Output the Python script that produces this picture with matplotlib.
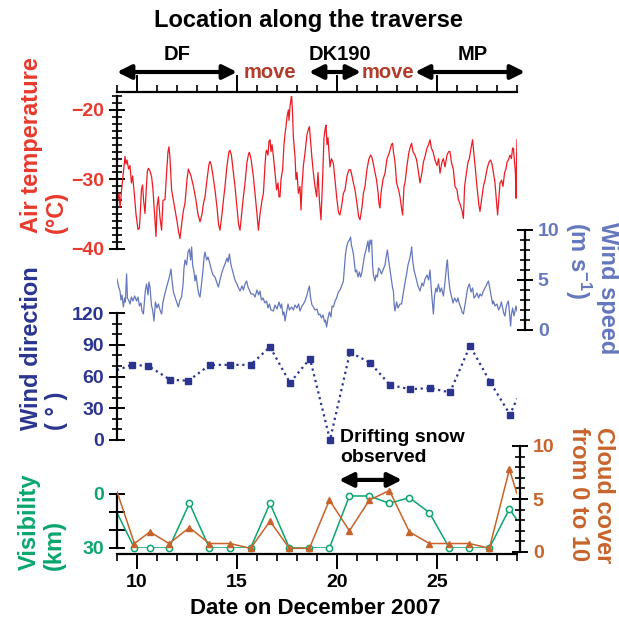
import matplotlib
matplotlib.use('Agg')
import matplotlib.pyplot as plt
from matplotlib.ticker import MultipleLocator, FixedLocator, FixedFormatter

plt.rcParams['font.family'] = ['Liberation Sans', 'DejaVu Sans']
plt.rcParams['font.weight'] = 'bold'
plt.rcParams['mathtext.fontset'] = 'custom'
plt.rcParams['mathtext.rm'] = 'Liberation Sans:bold'
plt.rcParams['mathtext.it'] = 'Liberation Sans:bold'
plt.rcParams['mathtext.bf'] = 'Liberation Sans:bold'

# ---- data ----
temp_day = [9.0, 9.1, 9.15, 9.23, 9.32, 9.40, 9.45, 9.5, 9.58, 9.65, 9.72, 9.78, 9.85, 9.95, 10.05,
            10.12, 10.18, 10.22, 10.28, 10.33, 10.40, 10.47, 10.52, 10.57, 10.65, 10.73, 10.8, 10.88,
            10.95, 11.0, 11.07, 11.15, 11.23, 11.3, 11.4, 11.48, 11.55, 11.60, 11.65, 11.73, 11.82,
            11.90, 12.0, 12.08, 12.15, 12.25, 12.32, 12.40, 12.5, 12.57, 12.62, 12.7, 12.82, 12.95,
            13.05, 13.15, 13.25, 13.32, 13.40, 13.5, 13.6, 13.65, 13.72, 13.8, 13.90, 14.0, 14.08,
            14.15, 14.25, 14.32, 14.40, 14.5, 14.6, 14.65, 14.72, 14.8, 14.90, 15.0, 15.08, 15.15,
            15.25, 15.32, 15.40, 15.5, 15.58, 15.62, 15.7, 15.82, 15.9, 16.0, 16.07, 16.15, 16.25,
            16.32, 16.4, 16.45, 16.48, 16.55, 16.6, 16.65, 16.7, 16.75, 16.82, 16.9, 16.98, 17.05,
            17.1, 17.15, 17.2, 17.28, 17.35, 17.4, 17.45, 17.5, 17.57, 17.6, 17.65, 17.7, 17.73,
            17.77, 17.82, 17.9, 17.95, 18.0, 18.07, 18.15, 18.2, 18.25, 18.32, 18.40, 18.5, 18.57,
            18.62, 18.68, 18.75, 18.82, 18.9, 18.98, 19.05, 19.12, 19.2, 19.28, 19.35, 19.42, 19.45,
            19.5, 19.55, 19.65, 19.72, 19.82, 19.9, 20.0, 20.08, 20.15, 20.25, 20.32, 20.40, 20.5,
            20.6, 20.68, 20.75, 20.82, 20.9, 21.0, 21.08, 21.15, 21.25, 21.32, 21.40, 21.5, 21.6,
            21.68, 21.73, 21.8, 21.9, 21.98, 22.05, 22.1, 22.15, 22.2, 22.3, 22.40, 22.5, 22.6,
            22.65, 22.72, 22.78, 22.82, 22.9, 22.98, 23.08, 23.15, 23.22, 23.28, 23.35, 23.40, 23.5,
            23.6, 23.7, 23.73, 23.8, 23.9, 23.98, 24.05, 24.15, 24.25, 24.32, 24.40, 24.5, 24.58,
            24.65, 24.72, 24.8, 24.90, 25.0, 25.08, 25.15, 25.25, 25.32, 25.40, 25.5, 25.58, 25.65,
            25.72, 25.82, 25.9, 26.0, 26.07, 26.15, 26.25, 26.32, 26.38, 26.45, 26.55, 26.62, 26.7,
            26.78, 26.85, 26.92, 26.98, 27.05, 27.1, 27.15, 27.25, 27.32, 27.40, 27.5, 27.6, 27.68,
            27.75, 27.82, 27.9, 27.97, 28.03, 28.1, 28.15, 28.23, 28.3, 28.38, 28.45, 28.5, 28.57,
            28.65, 28.72, 28.78, 28.82, 28.88, 28.92, 28.95, 28.98, 29.0]
temp_val = [-33.4, -32.0, -34.0, -31.5, -29.0, -26.7, -27.8, -27.2, -28.5, -28.0, -30.5, -29.5, -31.5,
            -35.0, -37.2, -37.0, -34.0, -31.5, -30.8, -33.0, -34.9, -31.0, -28.8, -28.4, -28.8, -29.6,
            -31.5, -35.0, -38.2, -34.0, -32.5, -35.5, -37.3, -33.0, -32.9, -29.0, -26.0, -25.3, -27.0,
            -31.5, -33.0, -34.4, -36.0, -37.5, -38.5, -36.0, -34.5, -33.4, -30.0, -28.5, -28.9, -29.5,
            -31.0, -33.0, -35.0, -36.1, -35.0, -33.5, -32.5, -30.0, -27.8, -27.4, -28.0, -29.5, -31.5,
            -34.0, -36.5, -37.3, -35.0, -33.0, -31.0, -28.0, -26.0, -25.8, -26.5, -28.5, -31.0, -34.0,
            -36.5, -37.3, -34.5, -32.5, -30.5, -27.5, -26.3, -26.1, -27.0, -29.6, -32.0, -35.0, -37.3,
            -35.0, -33.0, -32.0, -28.0, -26.0, -25.8, -26.5, -24.5, -24.3, -26.0, -25.0, -26.7, -29.0,
            -31.5, -30.5, -32.5, -32.5, -30.0, -28.6, -25.0, -23.5, -22.4, -21.0, -20.0, -21.5, -19.5,
            -18.5, -17.8, -20.0, -24.0, -26.7, -30.0, -29.0, -32.0, -31.0, -34.4, -31.0, -28.0, -26.2,
            -23.5, -22.8, -22.4, -24.5, -27.0, -29.1, -31.0, -32.5, -29.0, -33.0, -35.8, -30.0, -24.0,
            -22.5, -22.2, -25.0, -24.0, -28.2, -27.0, -27.7, -30.0, -33.0, -34.8, -35.1, -33.5, -32.0,
            -31.5, -29.5, -28.6, -28.6, -29.5, -30.5, -31.5, -33.5, -35.3, -35.8, -34.0, -32.0, -31.0,
            -28.5, -27.0, -26.5, -26.7, -27.5, -29.0, -30.1, -31.8, -33.5, -34.1, -32.0, -30.0, -29.1,
            -27.0, -26.3, -25.8, -25.0, -24.8, -26.0, -27.5, -30.5, -31.5, -32.5, -34.0, -35.1, -31.0,
            -30.5, -28.0, -26.0, -25.0, -24.8, -26.0, -26.5, -27.2, -28.5, -30.5, -29.0, -27.5, -26.7,
            -25.5, -25.0, -24.3, -25.5, -26.0, -27.2, -28.0, -27.0, -29.1, -27.5, -27.0, -28.2, -26.5,
            -26.0, -26.0, -27.5, -28.6, -31.0, -31.5, -32.9, -33.5, -34.5, -35.6, -31.0, -29.5, -27.5,
            -27.0, -25.5, -24.3, -26.5, -28.5, -30.5, -32.5, -33.8, -34.6, -32.5, -31.0, -30.1, -28.5,
            -27.5, -27.2, -27.8, -29.0, -30.5, -33.0, -35.1, -32.5, -30.5, -30.1, -31.0, -29.0, -28.5,
            -27.5, -27.2, -26.5, -27.0, -25.5, -25.5, -27.5, -29.0, -32.7, -27.0, -24.3]

ws_day = [9.0, 9.05, 9.1, 9.15, 9.2, 9.25, 9.32, 9.38, 9.42, 9.48, 9.52, 9.58, 9.65, 9.72, 9.8, 9.88,
          9.98, 10.05, 10.12, 10.2, 10.25, 10.32, 10.38, 10.42, 10.48, 10.55, 10.6, 10.65, 10.72,
          10.78, 10.85, 10.92, 11.0, 11.07, 11.15, 11.23, 11.3, 11.38, 11.48, 11.55, 11.62, 11.70,
          11.75, 11.82, 11.9, 11.98, 12.07, 12.15, 12.23, 12.3, 12.35, 12.40, 12.48, 12.55, 12.62,
          12.68, 12.73, 12.78, 12.85, 12.9, 12.95, 13.05, 13.1, 13.15, 13.22, 13.3, 13.35, 13.40,
          13.48, 13.55, 13.65, 13.72, 13.8, 13.9, 13.98, 14.07, 14.15, 14.25, 14.32, 14.40, 14.5,
          14.55, 14.62, 14.7, 14.78, 14.82, 14.9, 15.0, 15.08, 15.15, 15.25, 15.32, 15.4, 15.48,
          15.55, 15.62, 15.7, 15.82, 15.9, 16.0, 16.08, 16.15, 16.22, 16.3, 16.4, 16.48, 16.55,
          16.62, 16.7, 16.82, 16.9, 17.0, 17.1, 17.18, 17.23, 17.3, 17.35, 17.40, 17.48, 17.55,
          17.62, 17.73, 17.82, 17.9, 18.0, 18.08, 18.15, 18.25, 18.32, 18.40, 18.5, 18.57, 18.62,
          18.68, 18.75, 18.82, 18.9, 19.0, 19.08, 19.15, 19.22, 19.3, 19.38, 19.42, 19.48, 19.55,
          19.62, 19.7, 19.75, 19.82, 19.9, 19.98, 20.07, 20.15, 20.25, 20.32, 20.38, 20.42, 20.48,
          20.55, 20.62, 20.68, 20.72, 20.78, 20.82, 20.88, 20.92, 20.98, 21.05, 21.12, 21.18, 21.23,
          21.3, 21.38, 21.45, 21.48, 21.55, 21.6, 21.65, 21.7, 21.73, 21.78, 21.82, 21.9, 21.95,
          22.02, 22.08, 22.15, 22.22, 22.32, 22.4, 22.45, 22.52, 22.58, 22.65, 22.72, 22.78, 22.82,
          22.86, 22.90, 22.98, 23.05, 23.15, 23.23, 23.3, 23.38, 23.48, 23.55, 23.62, 23.7, 23.73,
          23.78, 23.85, 23.9, 23.98, 24.05, 24.15, 24.25, 24.32, 24.40, 24.5, 24.58, 24.65, 24.7,
          24.75, 24.82, 24.88, 24.95, 25.0, 25.07, 25.15, 25.22, 25.32, 25.4, 25.48, 25.52, 25.58,
          25.65, 25.73, 25.8, 25.88, 25.98, 26.05, 26.12, 26.2, 26.25, 26.32, 26.4, 26.5, 26.55,
          26.62, 26.7, 26.78, 26.85, 26.9, 27.0, 27.08, 27.15, 27.23, 27.32, 27.4, 27.5, 27.57,
          27.62, 27.7, 27.78, 27.82, 27.9, 28.0, 28.08, 28.15, 28.22, 28.3, 28.35, 28.40, 28.45,
          28.5, 28.57, 28.62, 28.68, 28.72, 28.78, 28.85, 28.9, 28.95, 29.0]
ws_val = [5.1, 4.6, 4.2, 3.9, 3.0, 3.5, 2.3, 3.2, 2.8, 5.6, 3.2, 3.0, 2.6, 3.3, 2.9, 3.4,
          2.9, 3.3, 2.4, 2.7, 1.9, 1.6, 3.0, 4.0, 4.6, 3.5, 4.8, 4.3, 2.5,
          2.0, 0.9, 2.8, 2.2, 2.6, 2.0, 1.6, 2.8, 3.5, 4.3, 4.8, 5.3, 6.1,
          5.0, 3.8, 3.3, 2.8, 2.3, 3.0, 3.3, 4.5, 6.2, 7.0, 6.5, 7.8, 8.1,
          7.0, 8.3, 6.5, 5.8, 4.9, 5.5, 4.0, 3.5, 3.3, 4.5, 6.0, 7.2, 7.8,
          7.0, 7.3, 6.6, 6.0, 5.5, 5.3, 4.8, 4.3, 5.0, 5.8, 6.2, 6.6, 7.2,
          6.8, 7.6, 6.5, 5.9, 5.6, 5.0, 4.6, 4.2, 3.9, 4.4, 4.0, 4.6, 4.9,
          4.3, 4.0, 3.6, 3.6, 3.3, 4.0, 3.5, 3.9, 3.0, 3.2, 2.7, 2.9, 2.2,
          2.6, 2.0, 1.9, 2.5, 2.1, 2.8, 2.2, 2.6, 1.5, 1.8, 0.9, 1.8, 2.6,
          2.0, 2.3, 2.0, 2.5, 2.2, 2.6, 1.9, 2.4, 2.6, 2.9, 3.5, 4.1, 4.4,
          3.2, 2.5, 2.3, 2.0, 2.1, 1.5, 1.6, 1.2, 1.5, 0.8, 1.0, 0.3, 1.2,
          1.8, 1.3, 2.4, 2.3, 2.9, 3.2, 3.8, 4.0, 4.5, 4.9, 6.5, 7.5, 8.3,
          8.8, 9.0, 9.3, 8.5, 8.0, 7.6, 6.5, 5.8, 6.0, 5.3, 5.8, 5.3, 5.6,
          6.5, 7.5, 8.0, 8.3, 8.9, 7.8, 9.0, 8.6, 9.0, 6.5, 5.5, 4.9, 5.5,
          5.3, 6.2, 6.0, 5.6, 6.1, 6.5, 7.2, 8.0, 7.0, 6.0, 5.0, 4.2, 3.9,
          2.5, 1.9, 2.8, 2.2, 2.6, 2.6, 3.5, 4.5, 5.6, 6.5, 7.0, 7.8, 8.3,
          7.0, 6.0, 5.6, 5.0, 4.4, 3.9, 4.7, 4.4, 5.1, 5.5, 5.0, 6.0, 4.5,
          3.2, 1.6, 3.5, 4.2, 3.8, 4.6, 3.8, 4.2, 3.4, 4.8, 6.5, 7.0, 5.2,
          4.0, 3.3, 2.7, 3.2, 2.8, 3.2, 2.6, 2.2, 1.8, 1.6, 2.5, 3.8, 4.3,
          4.6, 3.8, 4.2, 3.2, 3.3, 3.7, 3.2, 3.6, 3.4, 3.9, 4.2, 4.6, 4.9,
          4.4, 3.5, 2.6, 2.9, 2.4, 2.6, 2.0, 2.3, 2.8, 2.0, 1.6, 1.4, 2.2,
          2.6, 2.9, 1.8, 0.4, 1.5, 2.2, 1.4, 1.9, 2.4, 1.9]

wd_day = [9.0, 9.73, 10.57, 11.65, 12.57, 13.65, 14.65, 15.68, 16.65, 17.65, 18.65, 19.65,
          20.65, 21.65, 22.65, 23.65, 24.65, 25.65, 26.65, 27.65, 28.65, 29.0]
wd_val = [66, 71, 70, 57, 56, 71, 71, 71, 88, 54, 77, 0,
          83, 73, 52, 48, 49, 45, 89, 55, 24, 39]

obs_day = [9.0, 9.87, 10.65, 11.6, 12.62, 13.62, 14.65, 15.68, 16.65, 17.62, 18.62, 19.62,
           20.62, 21.62, 22.62, 23.62, 24.62, 25.62, 26.62, 27.62, 28.62, 29.0]
vis_val = [10.4, 30, 30, 30, 5.2, 30, 30, 30, 5.2, 30, 30, 30,
           1.1, 1.1, 5.2, 2.0, 10.4, 30, 30, 30, 8.3, 14.4]
cloud_val = [5.7, 0.8, 1.9, 0.8, 2.3, 0.8, 0.8, 0.35, 2.9, 0.35, 0.35, 4.9,
             2.0, 4.9, 5.8, 1.9, 0.8, 0.8, 0.8, 0.35, 7.8, 5.5]

# location segments: (start, end, label)
stays = [(9.0, 15.0, 'DF'), (18.6, 21.2, 'DK190'), (23.9, 29.4, 'MP')]
stay_label_x = [12.0, 20.15, 26.8]
move_x = [16.65, 22.55]
drift_snow = (20.1, 23.25)

c_temp, c_temp_txt = '#ec1c24', '#e8392c'
c_ws = '#6577bd'
c_wd = '#2b3590'
c_vis = '#0aa66e'
c_cc = '#c8632b'
c_move = '#b33b2a'

W, H = 619, 626
fig = plt.figure(figsize=(W / 100, H / 100), dpi=100)


def px_axes(top, bottom):
    ax = fig.add_axes([117 / W, 1 - bottom / H, 400 / W, (bottom - top) / H], facecolor='none')
    for s in ax.spines.values():
        s.set_visible(False)
    ax.set_xlim(9, 29)
    ax.tick_params(axis='x', which='both', bottom=False, labelbottom=False)
    return ax


def style_y(ax, side, color, major, minor=None, out=0):
    sp = ax.spines[side]
    sp.set_visible(True)
    sp.set_linewidth(1.6)
    if out:
        sp.set_position(('outward', out * 0.72))
    if side == 'right':
        ax.yaxis.tick_right()
    ax.yaxis.set_major_locator(FixedLocator(major))
    if minor:
        ax.yaxis.set_minor_locator(MultipleLocator(minor))
    ax.tick_params(axis='y', which='major', direction='inout', length=11.5, width=1.4,
                   labelsize=14, labelcolor=color)
    ax.tick_params(axis='y', which='minor', direction='inout', length=7, width=1.2)


arrow = dict(arrowstyle='<|-|>', color='black', lw=3, mutation_scale=21, shrinkA=0, shrinkB=0)

# location axis on top
ax_loc = px_axes(30, 92)
ax_loc.set_ylim(92, 30)
ax_loc.set_yticks([])
ax_loc.spines['bottom'].set_visible(True)
ax_loc.spines['bottom'].set_linewidth(1.6)
ax_loc.xaxis.set_major_locator(FixedLocator([10, 15, 20, 25]))
ax_loc.xaxis.set_minor_locator(MultipleLocator(1))
ax_loc.tick_params(axis='x', which='major', bottom=True, direction='in', length=12, width=1.4)
ax_loc.tick_params(axis='x', which='minor', bottom=True, direction='in', length=5, width=1.2)
for (a, b, lab), lx in zip(stays, stay_label_x):
    ax_loc.annotate('', xy=(a, 72), xytext=(b, 72), annotation_clip=False, arrowprops=arrow)
    ax_loc.text(lx, 55, lab, ha='center', va='center', fontsize=14.5, clip_on=False)
for mx in move_x:
    ax_loc.text(mx, 72, 'move', ha='center', va='center', fontsize=14.5, color=c_move, clip_on=False)

# air temperature
ax_t = px_axes(96, 249)
ax_t.set_ylim(-40, -18)
style_y(ax_t, 'left', c_temp_txt, [-40, -30, -20], 1)
ax_t.plot(temp_day, temp_val, color=c_temp, lw=0.9)

# wind speed
ax_ws = px_axes(230, 330)
ax_ws.set_ylim(0, 10)
style_y(ax_ws, 'right', c_ws, [0, 5, 10], 1, out=8)
ax_ws.plot(ws_day, ws_val, color=c_ws, lw=0.9)

# wind direction
ax_wd = px_axes(313, 440)
ax_wd.set_ylim(0, 120)
style_y(ax_wd, 'left', c_wd, [0, 30, 60, 90, 120], 10)
ax_wd.plot(wd_day, wd_val, color=c_wd, lw=1.6, ls=':')
ax_wd.plot(wd_day[1:-1], wd_val[1:-1], 's', color=c_wd, ms=5, clip_on=False)

# visibility (with the date axis)
ax_v = px_axes(494, 548)
ax_v.set_ylim(30, 0)
style_y(ax_v, 'left', c_vis, [0, 10, 20, 30])
ax_v.yaxis.set_major_formatter(FixedFormatter(['0', '', '', '30']))
ax_v.spines['bottom'].set_visible(True)
ax_v.spines['bottom'].set_linewidth(1.6)
ax_v.spines['bottom'].set_position(('outward', 6 * 0.72))
ax_v.xaxis.set_major_locator(FixedLocator([10, 15, 20, 25]))
ax_v.xaxis.set_minor_locator(MultipleLocator(1))
ax_v.tick_params(axis='x', which='major', bottom=True, labelbottom=True, direction='out',
                 length=11, width=1.4, labelsize=14)
ax_v.tick_params(axis='x', which='minor', bottom=True, direction='out', length=5, width=1.2)
ax_v.plot(obs_day, vis_val, color=c_vis, lw=1.1)
ax_v.plot(obs_day[1:-1], vis_val[1:-1], 'o', mfc='white', mec=c_vis, mew=1.1, ms=4.5, clip_on=False)

# cloud cover
ax_c = px_axes(446, 552)
ax_c.set_ylim(0, 10)
style_y(ax_c, 'right', c_cc, [0, 5, 10], 1, out=3)
ax_c.plot(obs_day, cloud_val, color=c_cc, lw=1.1)
ax_c.plot(obs_day[1:-1], cloud_val[1:-1], '^', color=c_cc, ms=5, clip_on=False)
ax_c.annotate('', xy=(drift_snow[0], 6.8), xytext=(drift_snow[1], 6.8), annotation_clip=False,
              arrowprops=arrow)

fig.text(340 / W, 1 - 429 / H, 'Drifting snow\nobserved', ha='left', va='top', fontsize=14,
         linespacing=1.2)

# titles and axis labels
fig.text(308 / W, 1 - 20 / H, 'Location along the traverse', ha='center', va='center', fontsize=17)
fig.text(315 / W, 1 - 608 / H, 'Date on December 2007', ha='center', va='center', fontsize=16)
fig.text(44 / W, 1 - 233 / H, 'Air temperature\n(°C)', rotation=90, ha='center', va='bottom',
         multialignment='left', fontsize=17, color=c_temp_txt, linespacing=1.1)
fig.text(44 / W, 1 - 430 / H, 'Wind direction\n( ° )', rotation=90, ha='center', va='bottom',
         multialignment='left', fontsize=17, color=c_wd, linespacing=1.1)
fig.text(42 / W, 1 - 570 / H, 'Visibility\n(km)', rotation=90, ha='center', va='bottom',
         multialignment='left', fontsize=17, color=c_vis, linespacing=1.1)
fig.text(591 / W, 1 - 222 / H, 'Wind speed\n(m s$^{-1}$)', rotation=270, ha='center', va='top',
         multialignment='left', fontsize=17, color=c_ws, linespacing=1.1)
fig.text(591 / W, 1 - 427 / H, 'Cloud cover\nfrom 0 to 10', rotation=270, ha='center', va='top',
         multialignment='left', fontsize=17, color=c_cc, linespacing=1.1)

fig.savefig('out.png', dpi=100)
